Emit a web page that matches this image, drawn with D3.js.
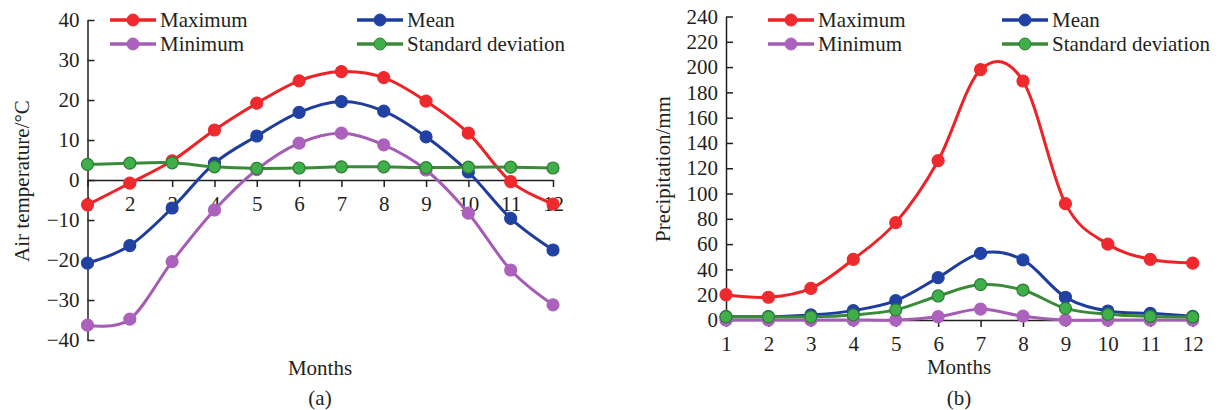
<!DOCTYPE html>
<html>
<head>
<meta charset="utf-8">
<script src="https://cdn.jsdelivr.net/npm/d3@7/dist/d3.min.js"></script>
<style>
  body { margin: 0; background: #fff; }
  text { font-family: "Liberation Serif", "Times New Roman", serif; fill: #231f20; }
</style>
</head>
<body>
<script>
// months on the x axis
var months = [1, 2, 3, 4, 5, 6, 7, 8, 9, 10, 11, 12];

// (a) air temperature, °C
var tempMax  = [-6.2, -0.8, 4.8, 12.5, 19.2, 24.8, 27.1, 25.6, 19.7, 11.7, -0.4, -6.0];
var tempMean = [-20.8, -16.4, -7.0, 4.2, 11.0, 16.9, 19.6, 17.2, 10.8, 2.0, -9.6, -17.5];
var tempMin  = [-36.3, -34.8, -20.4, -7.5, 2.6, 9.2, 11.7, 8.8, 2.5, -8.3, -22.5, -31.2];
var tempStd  = [3.9, 4.2, 4.3, 3.3, 2.9, 3.0, 3.3, 3.3, 3.1, 3.2, 3.2, 3.0];
var tempTicks = [-40, -30, -20, -10, 0, 10, 20, 30, 40];

// (b) precipitation, mm
var precMax  = [20, 18, 25, 48, 77, 126, 198, 189, 92, 60, 48, 45];
var precMean = [2.6, 2.6, 4, 7.4, 15.3, 33.5, 52.7, 47.5, 18, 7.1, 5.3, 2.8];
var precMin  = [0, 0, 0, 0, 0, 2.6, 8.6, 3, 0, 0, 0, 0];
var precStd  = [2.6, 2.5, 2.5, 4, 8, 19, 28, 23.7, 9.2, 4.5, 2.8, 2.4];
var precTicks = [0, 20, 40, 60, 80, 100, 120, 140, 160, 180, 200, 220, 240];

var seriesNames = ["Maximum", "Mean", "Minimum", "Standard deviation"];
var lineColors = ["#ec2327", "#1f3d9c", "#a55cb5", "#3a8a3a"];
var dotColors  = ["#ee2a2f", "#2242a3", "#ac62bd", "#3fae4b"];

var W = 1223, H = 410;
var svg = d3.select("body").append("svg")
  .attr("width", W).attr("height", H);

function panel(opt) {
  var x = d3.scaleLinear().domain([1, 12]).range(opt.xr);
  var y = d3.scaleLinear().domain(opt.yd).range(opt.yr);
  var g = svg.append("g");

  // y axis, ticks pointing inward
  var ya = g.append("g")
    .attr("transform", "translate(" + opt.xr[0] + ",0)")
    .call(d3.axisLeft(y).tickValues(opt.yticks).tickSizeInner(-7).tickSizeOuter(0).tickPadding(8));
  // x axis at zero
  var xa = g.append("g")
    .attr("transform", "translate(0," + y(0) + ")")
    .call(d3.axisBottom(x).tickValues(months).tickSize(7).tickSizeOuter(0).tickPadding(9).tickFormat(d3.format("d")));

  [ya, xa].forEach(function(a) {
    a.selectAll("path, line").attr("stroke", "#231f20").attr("stroke-width", 1.5);
    a.selectAll("text").attr("font-size", 21).style("font-family", "'Liberation Serif', serif").attr("fill", "#231f20");
  });

  var line = d3.line()
    .x(function(d, i) { return x(months[i]); })
    .y(function(d) { return y(d); })
    .curve(d3.curveCardinal.tension(0));

  opt.series.forEach(function(s, k) {
    g.append("path").datum(s)
      .attr("d", line)
      .attr("fill", "none")
      .attr("stroke", lineColors[k])
      .attr("stroke-width", 3);
    g.selectAll(null).data(s).enter().append("circle")
      .attr("cx", function(d, i) { return x(months[i]); })
      .attr("cy", function(d) { return y(d); })
      .attr("r", 6)
      .attr("fill", dotColors[k])
      .attr("stroke", k === 3 ? "#2e7d32" : dotColors[k])
      .attr("stroke-width", 1.2);
  });

  // legend: two columns, two rows
  seriesNames.forEach(function(name, k) {
    var lx = opt.legX[k % 2], ly = opt.legY[Math.floor(k / 2)];
    var lg = g.append("g").attr("transform", "translate(" + lx + "," + ly + ")");
    lg.append("line").attr("x1", 0).attr("x2", 46).attr("y1", 0).attr("y2", 0)
      .attr("stroke", lineColors[k]).attr("stroke-width", 3.5);
    lg.append("circle").attr("cx", 23).attr("cy", 0).attr("r", 6)
      .attr("fill", dotColors[k]).attr("stroke", k === 3 ? "#2e7d32" : dotColors[k]);
    lg.append("text").attr("x", 50).attr("y", 0).attr("dy", "0.35em")
      .attr("font-size", 21).text(name);
  });

  // axis titles
  g.append("text")
    .attr("transform", "translate(" + opt.ylabX + "," + opt.ylabY + ") rotate(-90)")
    .attr("text-anchor", "middle").attr("dy", "0.35em")
    .attr("font-size", 21).text(opt.ylabel);
  g.append("text")
    .attr("x", opt.capX).attr("y", opt.monthsY).attr("dy", "0.35em")
    .attr("text-anchor", "middle").attr("font-size", 21).text("Months");
  g.append("text")
    .attr("x", opt.capX).attr("y", 398).attr("dy", "0.35em")
    .attr("text-anchor", "middle").attr("font-size", 21).text(opt.caption);
}

panel({
  xr: [87.5, 553], yd: [-40, 40], yr: [340, 20], yticks: tempTicks,
  series: [tempMax, tempMean, tempMin, tempStd],
  legX: [110, 357], legY: [20, 44],
  ylabel: "Air temperature/°C", ylabX: 22, ylabY: 181,
  capX: 320, monthsY: 368, caption: "(a)"
});

panel({
  xr: [726, 1192.7], yd: [0, 240], yr: [320, 16.5], yticks: precTicks,
  series: [precMax, precMean, precMin, precStd],
  legX: [768, 1002], legY: [20, 44],
  ylabel: "Precipitation/mm", ylabX: 663, ylabY: 169,
  capX: 959, monthsY: 367, caption: "(b)"
});
</script>
</body>
</html>
